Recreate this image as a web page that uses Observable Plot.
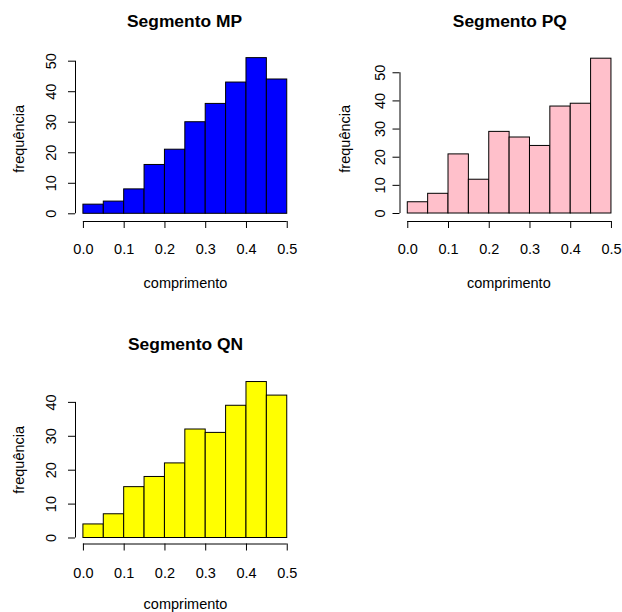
<!DOCTYPE html>
<html>
<head>
<meta charset="utf-8">
<script src="https://cdn.jsdelivr.net/npm/d3@7"></script>
<script src="https://cdn.jsdelivr.net/npm/@observablehq/plot@0.6"></script>
<style>
  html, body { margin: 0; padding: 0; background: #fff; }
  #grid { position: relative; width: 622px; height: 612px; overflow: hidden; background: #fff; }
  #grid svg { position: absolute; overflow: visible; }
</style>
</head>
<body>
<div id="grid"></div>
<script>
// Histogram bins: left edges and common width
const binStart = [0.00, 0.05, 0.10, 0.15, 0.20, 0.25, 0.30, 0.35, 0.40, 0.45];
const binWidth = 0.05;

// Frequencies per segment
const countsMP = [3, 4, 8, 16, 21, 30, 36, 43, 51, 44];
const countsPQ = [4, 7, 21, 12, 29, 27, 24, 38, 39, 55];
const countsQN = [4, 7, 15, 18, 22, 32, 31, 39, 46, 42];

// Texts and tick values
const titles = ["Segmento MP", "Segmento PQ", "Segmento QN"];
const xLabel = "comprimento";
const yLabel = "frequência";
const xTicks = [0, 0.1, 0.2, 0.3, 0.4, 0.5];
const yTicksMP = [0, 10, 20, 30, 40, 50];
const yTicksPQ = [0, 10, 20, 30, 40, 50];
const yTicksQN = [0, 10, 20, 30, 40];

// Panel geometry (pixels within each 311x306 panel)
const W = 311, H = 306;
const layouts = [
  {left: 0, top: 0, ml: 75, mr: 16.1, mt: 51.4, mb: 85, xDomain: [-0.0194, 0.52], yDomain: [-2.52, 53.04],
   titleX: 184, titleY: 20.7, yLabelX: 19, yLabelY: 138.3, xLabelX: 185, xLabelY: 282.7, xTickY: 249, yTickX: 51},
  {left: 311, top: 0, ml: 88.5, mr: 2.9, mt: 52, mb: 85, xDomain: [-0.0191, 0.52], yDomain: [-2.84, 57.2],
   titleX: 198.3, titleY: 20.7, yLabelX: 34, yLabelY: 138.3, xLabelX: 197.3, xLabelY: 282.7, xTickY: 249, yTickX: 68.5},
  {left: 0, top: 306, ml: 75, mr: 16.1, mt: 69.3, mb: 68.5, xDomain: [-0.0194, 0.52], yDomain: [-1.77, 47.84],
   titleX: 185, titleY: 37.7, yLabelX: 19, yLabelY: 153.3, xLabelX: 185, xLabelY: 297.6, xTickY: 267.3, yTickX: 51.3}
];

const series = [
  {counts: countsMP, fill: "#0000FF", yTicks: yTicksMP},
  {counts: countsPQ, fill: "#FFC0CB", yTicks: yTicksPQ},
  {counts: countsQN, fill: "#FFFF00", yTicks: yTicksQN}
];

const font = "'Liberation Sans', Arial, Helvetica, sans-serif";
const grid = document.getElementById("grid");

series.forEach((s, i) => {
  const L = layouts[i];
  const bins = binStart.map((b, j) => ({x1: b, x2: b + binWidth, count: s.counts[j]}));
  const frameW = W - L.ml - L.mr;
  const frameH = H - L.mt - L.mb;
  const B = H - L.mb; // pixel row of the x axis line
  const yTop = s.yTicks[s.yTicks.length - 1];

  const svg = Plot.plot({
    width: W,
    height: H,
    marginLeft: L.ml,
    marginRight: L.mr,
    marginTop: L.mt,
    marginBottom: L.mb,
    style: {fontFamily: font, fontSize: "14.5px", background: "transparent", color: "black"},
    x: {type: "linear", domain: L.xDomain, axis: null},
    y: {type: "linear", domain: L.yDomain, axis: null},
    marks: [
      // bars
      Plot.rectY(bins, {x1: "x1", x2: "x2", y: "count", fill: s.fill, stroke: "black", strokeWidth: 1}),
      // x axis line and ticks
      Plot.ruleY([L.yDomain[0]], {x1: xTicks[0], x2: xTicks[xTicks.length - 1], stroke: "black"}),
      Plot.tickX(xTicks, {x: d => d, insetTop: frameH, insetBottom: -7, stroke: "black"}),
      Plot.text(xTicks, {x: d => d, frameAnchor: "bottom", dy: L.xTickY - B, text: d => d.toFixed(1),
        fontSize: 14.5, fill: "black", lineAnchor: "middle"}),
      // y axis line and ticks
      Plot.ruleX([L.xDomain[0]], {y1: s.yTicks[0], y2: yTop, stroke: "black"}),
      Plot.tickY(s.yTicks, {y: d => d, insetRight: frameW, insetLeft: -7, stroke: "black"}),
      Plot.text(s.yTicks, {y: d => d, frameAnchor: "left", dx: L.yTickX - L.ml, text: d => String(d),
        rotate: -90, fontSize: 14.5, fill: "black", textAnchor: "middle", lineAnchor: "middle"}),
      // title and axis labels
      Plot.text([titles[i]], {frameAnchor: "top-left", dx: L.titleX - L.ml, dy: L.titleY - L.mt,
        fontSize: 17.4, fontWeight: "bold", fill: "black", textAnchor: "middle", lineAnchor: "middle"}),
      Plot.text([xLabel], {frameAnchor: "top-left", dx: L.xLabelX - L.ml, dy: L.xLabelY - L.mt,
        fontSize: 14.5, fill: "black", textAnchor: "middle", lineAnchor: "middle"}),
      Plot.text([yLabel], {frameAnchor: "top-left", dx: L.yLabelX - L.ml, dy: L.yLabelY - L.mt,
        rotate: -90, fontSize: 14.5, fill: "black", textAnchor: "middle", lineAnchor: "middle"})
    ]
  });
  svg.style.left = L.left + "px";
  svg.style.top = L.top + "px";
  grid.appendChild(svg);
});
</script>
</body>
</html>
